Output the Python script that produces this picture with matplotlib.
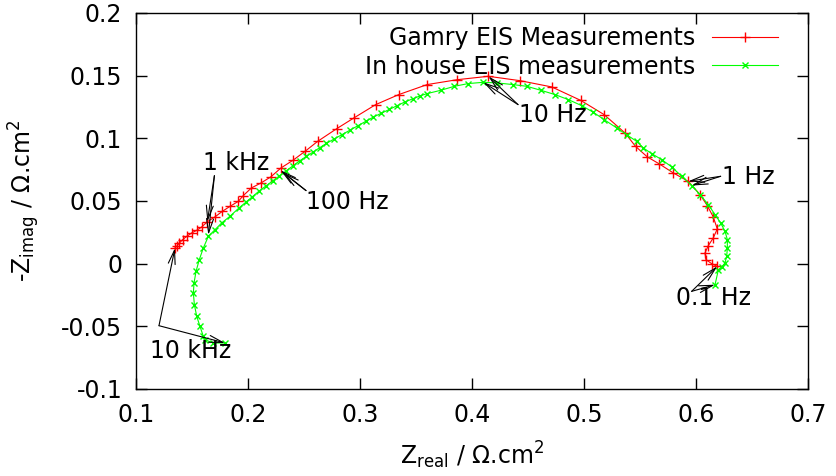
import matplotlib
matplotlib.use("Agg")
import matplotlib.pyplot as plt

# Nyquist data (Z in Ohm.cm^2), high -> low frequency
gamry_re = [0.1348, 0.1363, 0.1387, 0.1417, 0.1453, 0.1497, 0.1542, 0.1587, 0.1637,
            0.1705, 0.1770, 0.1839, 0.1913, 0.1958, 0.2030, 0.2116, 0.2203, 0.2295,
            0.2400, 0.2509, 0.2622, 0.2792, 0.2946, 0.3140, 0.3346, 0.3600, 0.3869,
            0.4146, 0.4429, 0.4712, 0.4970, 0.5180, 0.5366, 0.5460, 0.5565, 0.5672,
            0.5797, 0.5931, 0.6036, 0.6101, 0.6154, 0.6190, 0.6154, 0.6110, 0.6080,
            0.6089, 0.6140, 0.6190]
gamry_im = [0.0125, 0.0138, 0.0165, 0.0192, 0.0218, 0.0245, 0.0266, 0.0293, 0.0335,
            0.0373, 0.0417, 0.0457, 0.0497, 0.0543, 0.0604, 0.0644, 0.0692, 0.0764,
            0.0824, 0.0896, 0.0976, 0.1077, 0.1163, 0.1269, 0.1349, 0.1429, 0.1468,
            0.1495, 0.1460, 0.1410, 0.1303, 0.1189, 0.1043, 0.0936, 0.0852, 0.0796,
            0.0724, 0.0657, 0.0551, 0.0463, 0.0373, 0.0277, 0.0205, 0.0144, 0.0085,
            0.0032, 0.0000, -0.0022]

inhouse_re = [0.1795, 0.1690, 0.1616, 0.1601, 0.1571, 0.1542, 0.1521, 0.1512, 0.1518,
              0.1536, 0.1565, 0.1601, 0.1646, 0.1705, 0.1765, 0.1839, 0.1920, 0.1980,
              0.2040, 0.2100, 0.2160, 0.2220, 0.2280, 0.2340, 0.2400, 0.2460, 0.2520,
              0.2580, 0.2640, 0.2700, 0.2770, 0.2840, 0.2910, 0.2980, 0.3050, 0.3120,
              0.3190, 0.3260, 0.3330, 0.3400, 0.3470, 0.3540, 0.3600, 0.3720, 0.3842,
              0.3967, 0.4101, 0.4226, 0.4364, 0.4489, 0.4616, 0.4741, 0.4860, 0.4979,
              0.5083, 0.5180, 0.5292, 0.5380, 0.5470, 0.5530, 0.5604, 0.5694, 0.5783,
              0.5872, 0.5962, 0.6036, 0.6110, 0.6170, 0.6220, 0.6259, 0.6280, 0.6280,
              0.6274, 0.6259, 0.6230, 0.6200, 0.6170]
inhouse_im = [-0.0633, -0.0633, -0.0607, -0.0580, -0.0500, -0.0420, -0.0327, -0.0234, -0.0154,
              -0.0061, 0.0032, 0.0125, 0.0218, 0.0271, 0.0325, 0.0378, 0.0445, 0.0490,
              0.0535, 0.0580, 0.0620, 0.0660, 0.0700, 0.0740, 0.0780, 0.0820, 0.0855,
              0.0890, 0.0925, 0.0960, 0.0995, 0.1030, 0.1065, 0.1100, 0.1135, 0.1170,
              0.1200, 0.1230, 0.1260, 0.1290, 0.1315, 0.1340, 0.1357, 0.1383, 0.1415,
              0.1437, 0.1447, 0.1442, 0.1429, 0.1415, 0.1383, 0.1349, 0.1309, 0.1261,
              0.1208, 0.1149, 0.1083, 0.1029, 0.0976, 0.0923, 0.0878, 0.0830, 0.0772,
              0.0697, 0.0623, 0.0551, 0.0471, 0.0391, 0.0325, 0.0258, 0.0192, 0.0125,
              0.0058, 0.0006, -0.0026, -0.0048, -0.0168]

# frequency labels: text position, arrow start, arrow tips
freq_labels = ["1 kHz", "10 kHz", "100 Hz", "10 Hz", "1 Hz", "0.1 Hz"]
label_pos = [(0.1890, 0.0806), (0.1490, -0.0700), (0.2890, 0.0495),
             (0.4723, 0.1183), (0.6470, 0.0690), (0.6160, -0.0275)]
arrow_start = [(0.1700, 0.0702), (0.1205, -0.0495), (0.2518, 0.0583),
               (0.4411, 0.1269), (0.6220, 0.0697), (0.5961, -0.0221)]
arrow_tips = [[(0.1637, 0.0335), (0.1646, 0.0229)],
              [(0.1348, 0.0125), (0.1795, -0.0633)],
              [(0.2290, 0.0745), (0.2315, 0.0725)],
              [(0.4146, 0.1495), (0.4101, 0.1447)],
              [(0.5931, 0.0657), (0.5962, 0.0623)],
              [(0.6190, -0.0022), (0.6170, -0.0168)]]

fs = 17
plt.rcParams['font.family'] = ['DejaVu Sans']
plt.rcParams['mathtext.default'] = 'regular'

fig = plt.figure(figsize=(8.36, 4.76), dpi=100)
ax = fig.add_axes([0.1627, 0.1828, 0.8038, 0.7899])

ax.plot(gamry_re, gamry_im, color='#ff0000', marker='+', ms=6.5, mew=1.0, lw=0.8,
        label='Gamry EIS Measurements')
ax.plot(inhouse_re, inhouse_im, color='#00ff00', marker='x', ms=5, mew=1.0, lw=0.8,
        label='In house EIS measurements')

for txt, pos, start, tips in zip(freq_labels, label_pos, arrow_start, arrow_tips):
    ax.text(pos[0], pos[1], txt, fontsize=fs, ha='center', va='center')
    for tip in tips:
        ax.annotate('', xy=tip, xytext=start,
                    arrowprops=dict(arrowstyle='->,head_length=1.0,head_width=0.25',
                                    lw=0.8, color='black', shrinkA=0, shrinkB=0))

ax.set_xlim(0.1, 0.7)
ax.set_ylim(-0.1, 0.2)
ax.set_xticks([0.1, 0.2, 0.3, 0.4, 0.5, 0.6, 0.7])
ax.set_xticklabels(['0.1', '0.2', '0.3', '0.4', '0.5', '0.6', '0.7'])
ax.set_yticks([-0.1, -0.05, 0, 0.05, 0.1, 0.15, 0.2])
ax.set_yticklabels(['-0.1', '-0.05', '0', '0.05', '0.1', '0.15', '0.2'])
ax.tick_params(direction='in', length=8, width=1, top=True, right=True,
               labelsize=fs, pad=10)
for s in ax.spines.values():
    s.set_linewidth(1)

ax.set_xlabel('Z$_{real}$ / Ω.cm$^2$', fontsize=fs, labelpad=9)
ax.set_ylabel('-Z$_{imag}$ / Ω.cm$^2$', fontsize=fs, labelpad=14)

ax.legend(loc='upper right', bbox_to_anchor=(0.975, 1.0), frameon=False,
          markerfirst=False, numpoints=1, fontsize=fs, handlelength=2.8,
          handletextpad=0.7, labelspacing=0.2, borderaxespad=0.15)

plt.savefig('out.png', dpi=100)
